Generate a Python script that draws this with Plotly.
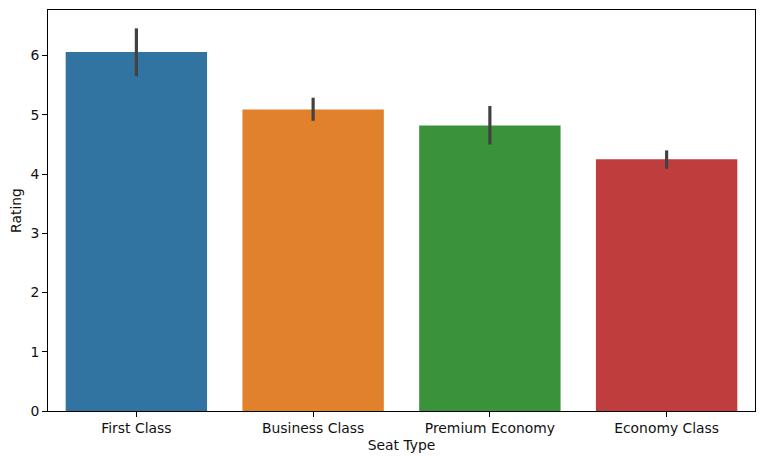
import plotly.graph_objects as go

categories = ["First Class", "Business Class", "Premium Economy", "Economy Class"]
ratings = [6.06, 5.09, 4.82, 4.25]
ci_low = [5.65, 4.90, 4.50, 4.09]
ci_high = [6.46, 5.29, 5.15, 4.40]
colors = ["#3274a1", "#e1812c", "#3a923a", "#c03d3e"]

fig = go.Figure()
fig.add_trace(go.Bar(
    x=categories, y=ratings, width=0.8, marker=dict(color=colors, line=dict(width=0)),
    error_y=dict(type="data", symmetric=False,
                 array=[h - r for h, r in zip(ci_high, ratings)],
                 arrayminus=[r - l for r, l in zip(ratings, ci_low)],
                 color="#424242", thickness=3.2, width=0),
    hoverinfo="x+y",
))
axis_font = dict(family="DejaVu Sans", size=13.9, color="#111111")
common = dict(showgrid=False, zeroline=False, ticks="outside", ticklen=4.9,
              tickwidth=1.1, tickcolor="black", showline=True, linecolor="black",
              linewidth=1.1, mirror=True, tickfont=axis_font)
fig.update_layout(
    width=764, height=464, autosize=False,
    margin=dict(l=48, r=9, t=10, b=53),
    paper_bgcolor="white", plot_bgcolor="white",
    showlegend=False, bargap=0.2,
    font=axis_font,
    xaxis=dict(range=[-0.5, 3.5], ticklabelstandoff=-1,
               title=dict(text="Seat Type", font=axis_font, standoff=5), **common),
    yaxis=dict(range=[0, 6.77], tickvals=[0, 1, 2, 3, 4, 5, 6],
               title=dict(text="Rating", font=axis_font, standoff=5), **common),
)
fig.write_html("out.html", config={"displayModeBar": False},
               post_script="document.body.style.margin='0';document.body.style.overflow='hidden';")
